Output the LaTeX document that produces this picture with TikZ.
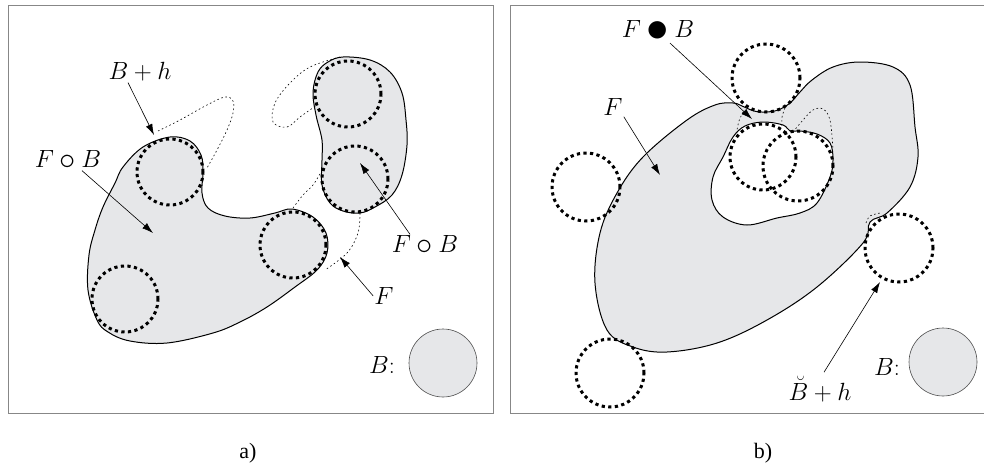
\documentclass[tikz,border=0pt]{standalone}
\usepackage{fontspec}
\newfontfamily\capfont{Liberation Serif}
\usetikzlibrary{arrows.meta}

\definecolor{shade}{RGB}{230,231,233}
\definecolor{framegray}{RGB}{135,135,135}
% opening and closing operators, drawn a bit larger than \circ and \bullet
\newcommand{\opening}{\mathbin{\raisebox{-0.08em}{\scalebox{1.3}{$\circ$}}}}
\newcommand{\closing}{\mathbin{\raisebox{-0.2em}{\scalebox{1.8}{$\bullet$}}}}

\begin{document}
\begin{tikzpicture}[x=1pt,y=-1pt,
    region/.style={fill=shade,draw=black,line width=1pt},
    probe/.style={line width=3pt,dash pattern=on 3.2pt off 3.4pt},
    orig/.style={line width=0.6pt,dash pattern=on 1.6pt off 2.6pt},
    pointer/.style={line width=0.6pt,-{Latex[length=11pt,width=7pt]}},
    lbl/.style={font=\fontsize{24}{28}\selectfont,inner sep=1pt},
    panel/.style={draw=framegray,line width=1pt}]
  \useasboundingbox (0,0) rectangle (984,466);

  %%% a) opening
  \draw[panel] (8,5) rectangle (493,413);
  \filldraw[region] plot[smooth cycle,tension=0.6] coordinates {
    (170,137) (190,141) (201,155) (203,172) (202,193) (208,208) (225,216)
    (250,218) (275,213) (292,209) (313,217) (326,233) (327,253) (317,270)
    (295,287) (267,307) (240,322) (213,333) (167,343) (130,341) (108,332)
    (97,320) (88,290) (89,255) (95,230) (103,207) (115,183) (123,167) (143,147)};
  \filldraw[region] plot[smooth cycle,tension=0.6] coordinates {
    (343,57) (370,60) (390,72) (402,93) (406,120) (407,145) (402,175)
    (392,195) (375,207) (360,213) (343,211) (330,203) (322,185) (322,160)
    (322,140) (316,115) (313,92) (318,72) (328,62)};
  % the parts of F lost by the opening
  \draw[orig] plot[smooth,tension=0.6] coordinates {
    (158,131) (180,120) (207,105) (225,97) (233,101) (233,113) (227,130) (217,150) (207,168)};
  \draw[orig] plot[smooth,tension=0.6] coordinates {
    (340,57) (310,67) (290,83) (275,103) (273,122) (287,127) (300,117) (317,105)};
  \draw[orig] plot[smooth,tension=0.6] coordinates {(360,213) (358,233) (347,253) (325,270)};
  \draw[orig] plot[smooth,tension=0.6] coordinates {(293,208) (303,195) (313,185) (321,172)};
  % translated structuring elements
  \draw[probe] (170,172) circle (33pt);
  \draw[probe] (293,245) circle (33pt);
  \draw[probe] (125,299) circle (33pt);
  \draw[probe] (348,94) circle (33pt);
  \draw[probe] (355,179) circle (33pt);

  \node[lbl] (bh) at (140,72) {$B+h$};
  \coordinate (bh-tip) at (154,135);
  \draw[pointer] ([xshift=-12pt]bh.south) -- (bh-tip);
  \node[lbl] (openL) at (68,160) {$F\opening B$};
  \coordinate (openL-tip) at (153,233);
  \draw[pointer] ([xshift=14pt]openL.south) -- (openL-tip);
  \node[lbl] (openR) at (425,245) {$F\opening B$};
  \coordinate (openR-tip) at (360,163);
  \draw[pointer] ([xshift=-15pt]openR.north) -- (openR-tip);
  \node[lbl] (setA) at (384,296) {$F$};
  \coordinate (setA-tip) at (340,257);
  \draw[pointer] (setA.west) -- (setA-tip);
  \node[lbl] (keyA) at (382,365) {$B$:};
  \filldraw[fill=shade,draw=black!70,line width=0.6pt] (443,363) circle (34pt);
  \node[font=\capfont\fontsize{22}{26}\selectfont] (capA) at (248,453) {a)};

  %%% b) closing
  \draw[panel] (510,5) rectangle (990,413);
  \filldraw[region,even odd rule]
    plot[smooth cycle,tension=0.6] coordinates {
      (733,103) (742,106) (754,111) (766,112) (778,110) (790,103) (800,92)
      (812,80) (833,67) (860,62) (893,67) (910,85) (915,127) (918,157)
      (910,187) (887,213) (870,222) (863,243) (817,287) (767,320) (717,343)
      (667,352) (633,347) (607,330) (595,283) (600,233) (617,193) (643,157)
      (687,120) (715,105)}
    plot[smooth cycle,tension=0.6] coordinates {
      (733,137) (745,126) (763,122) (783,125) (790,131) (800,131) (817,134)
      (830,143) (833,160) (830,177) (817,203) (800,213) (777,218) (747,225)
      (723,217) (712,200) (713,177) (723,157)};
  % boundary of F where the closing fills in
  \draw[orig] plot[smooth,tension=0.6] coordinates {(743,112) (739,121) (737,130)};
  \draw[orig] plot[smooth,tension=0.6] coordinates {(785,108) (782,117) (782,127)};
  \draw[orig] plot[smooth,tension=0.6] coordinates {
    (793,132) (803,120) (813,110) (823,109) (830,120) (833,150)};
  \draw[orig] plot[smooth,tension=0.6] coordinates {(866,223) (870,216) (880,213)};
  % reflected structuring elements
  \draw[probe] (766,78) circle (34pt);
  \draw[probe] (586,187) circle (34pt);
  \draw[probe] (763,157) circle (33pt);
  \draw[probe] (798,166) circle (35pt);
  \draw[probe] (899,248) circle (34pt);
  \draw[probe] (610,373) circle (34pt);

  \node[lbl] (closeB) at (658,31) {$F\closing B$};
  \coordinate (closeB-tip) at (752,119);
  \draw[pointer] ([xshift=12pt]closeB.south) -- (closeB-tip);
  \node[lbl] (setB) at (613,107) {$F$};
  \coordinate (setB-tip) at (660,175);
  \draw[pointer] (setB.south east) -- (setB-tip);
  \node[lbl] (rbh) at (820,389) {$\breve{B}+h$};
  \coordinate (rbh-tip) at (880,282);
  \draw[pointer] ([xshift=4pt,yshift=3pt]rbh.north) -- (rbh-tip);
  \node[lbl] (keyB) at (887,367) {$B$:};
  \filldraw[fill=shade,draw=black!70,line width=0.6pt] (943,362) circle (34pt);
  \node[font=\capfont\fontsize{22}{26}\selectfont] (capB) at (763,453) {b)};
\end{tikzpicture}
\end{document}
